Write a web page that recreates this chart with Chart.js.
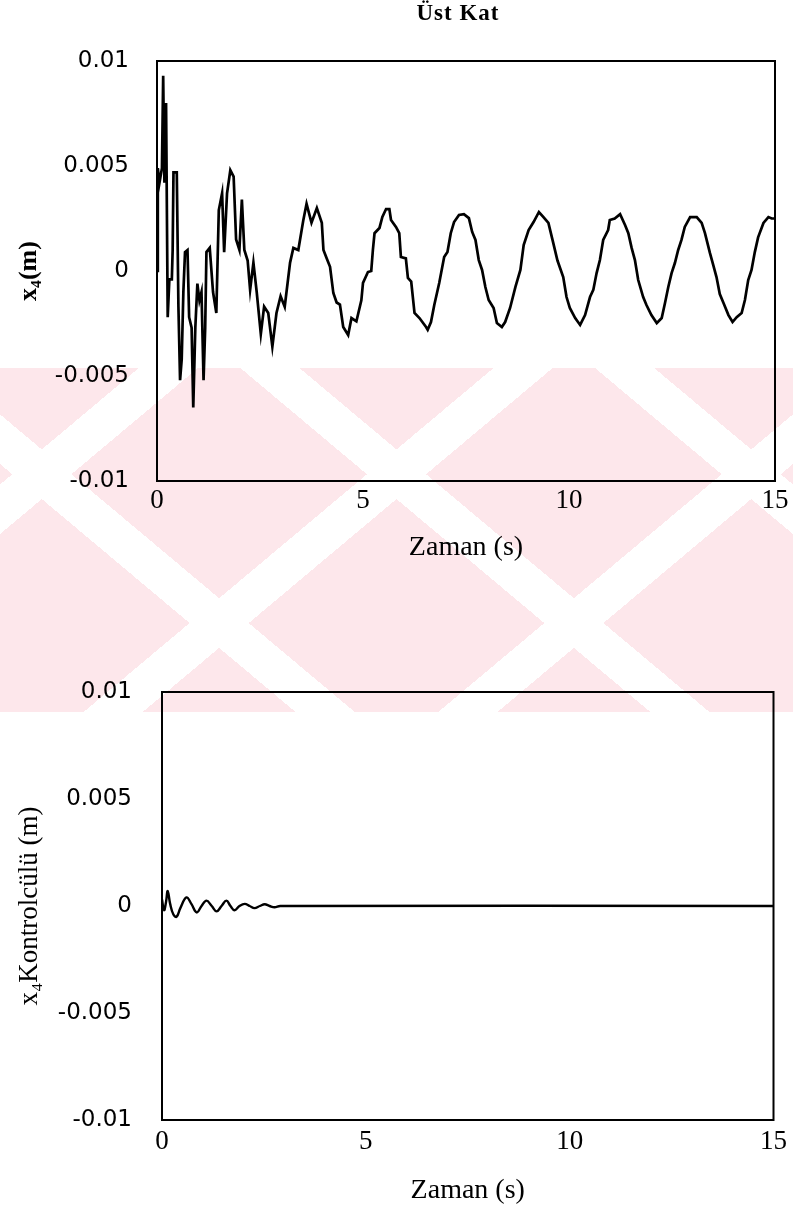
<!DOCTYPE html>
<html>
<head>
<meta charset="utf-8">
<script src="https://cdn.jsdelivr.net/npm/chart.js@4.4.1/dist/chart.umd.min.js"></script>
<style>
  html, body { margin: 0; padding: 0; background: #fff; }
  #page { position: relative; width: 793px; height: 1215px; overflow: hidden; background: #fff; }
  #mark {
    position: absolute; left: 0; top: 368px; width: 793px; height: 344px;
    background-color: #fde7eb;
    background-image:
      repeating-linear-gradient(40deg, transparent 0 190px, #fff 190px 228px),
      repeating-linear-gradient(-40deg, transparent 0 190px, #fff 190px 228px);
  }
  canvas { position: absolute; left: 0; }
</style>
</head>
<body>
<div id="page">
  <div id="mark"></div>
  <canvas id="topChart" width="793" height="600" style="top:0"></canvas>
  <canvas id="bottomChart" width="793" height="615" style="top:600px"></canvas>
</div>
<script>
// time axis, seconds
const xTicks = [0, 5, 10, 15];
const yTickLabels = ['-0.01', '-0.005', '0', '0.005', '0.01'];

// top storey displacement x4 (m)
const topTime = [0, 0.02, 0.06, 0.12, 0.15, 0.18, 0.22, 0.26, 0.30, 0.36, 0.38, 0.40, 0.48, 0.52, 0.56, 0.60,
  0.64, 0.68, 0.74, 0.78, 0.84, 0.88, 0.93, 0.98, 1.03, 1.08, 1.13, 1.17, 1.20, 1.28, 1.36, 1.44,
  1.50, 1.58, 1.63, 1.70, 1.78, 1.86, 1.92, 2.00, 2.06, 2.12, 2.20, 2.26, 2.34, 2.42, 2.52, 2.60,
  2.70, 2.80, 2.90, 3.00, 3.10, 3.23, 3.31, 3.43, 3.55, 3.63, 3.75, 3.88, 4.00, 4.04, 4.12, 4.20,
  4.28, 4.36, 4.44, 4.52, 4.64, 4.72, 4.84, 4.96, 5.00, 5.12, 5.20, 5.24, 5.28, 5.40, 5.47, 5.56,
  5.64, 5.68, 5.80, 5.88, 5.92, 6.04, 6.09, 6.17, 6.25, 6.37, 6.53, 6.57, 6.65, 6.73, 6.85, 6.97,
  7.05, 7.13, 7.21, 7.33, 7.45, 7.57, 7.65, 7.73, 7.81, 7.89, 7.97, 8.05, 8.17, 8.25, 8.37, 8.45,
  8.57, 8.70, 8.82, 8.90, 9.02, 9.14, 9.27, 9.38, 9.50, 9.60, 9.72, 9.86, 9.94, 10.02, 10.15, 10.27,
  10.39, 10.51, 10.59, 10.67, 10.75, 10.83, 10.95, 10.99, 11.11, 11.24, 11.36, 11.44, 11.52, 11.60,
  11.68, 11.80, 11.88, 12.00, 12.13, 12.25, 12.33, 12.41, 12.49, 12.57, 12.65, 12.73, 12.81, 12.94,
  13.10, 13.22, 13.30, 13.42, 13.50, 13.58, 13.66, 13.75, 13.87, 13.97, 14.07, 14.19, 14.27, 14.35,
  14.43, 14.51, 14.59, 14.72, 14.84, 14.92, 15.00];
const topDisp = [0, 0.0049, 0.0042, 0.0049, 0.0093, 0.0042, 0.0080, -0.0022, -0.0004, -0.0004, 0.0010, 0.0047, 0.0047, -0.0017, -0.0052, -0.0042,
  -0.0010, 0.0009, 0.0010, -0.0022, -0.0027, -0.0065, -0.0027, -0.0006, -0.0014, -0.0010, -0.0052, -0.0027, 0.0009, 0.0011, -0.0010, -0.0020,
  0.0029, 0.0037, 0.0009, 0.0037, 0.0048, 0.0045, 0.0015, 0.0010, 0.0034, 0.0010, 0.0005, -0.0009, 0.0004, -0.0010, -0.0030, -0.0017,
  -0.0020, -0.0036, -0.0020, -0.0012, -0.0017, 0.0004, 0.0011, 0.0010, 0.0024, 0.0032, 0.0023, 0.0030, 0.0023, 0.0010, 0.0006, 0.0002,
  -0.00105, -0.0015, -0.0016, -0.00267, -0.00305, -0.00224, -0.0024, -0.0014, -0.00057, -0.00005, 0.0000, 0.0010, 0.0018, 0.00205, 0.00257, 0.00295,
  0.00295, 0.00243, 0.0021, 0.0018, 0.00067, 0.0006, -0.00033, -0.0005, -0.0020, -0.00224, -0.00267, -0.0028, -0.00243, -0.00162, -0.00057, 0.00067,
  0.0009, 0.0018, 0.00233, 0.00267, 0.00271, 0.00252, 0.00186, 0.00148, 0.00052, 0.00005, -0.00076, -0.00138, -0.00176, -0.00248, -0.00267, -0.00243,
  -0.00176, -0.00076, 0.00005, 0.00124, 0.00195, 0.00233, 0.00281, 0.00257, 0.00229, 0.00148, 0.0005, -0.00029, -0.00124, -0.00176, -0.00224, -0.00257,
  -0.0021, -0.00124, -0.0009, -0.0001, 0.00052, 0.00148, 0.00195, 0.00243, 0.0025, 0.00271, 0.00219, 0.0018, 0.0011, 0.00052,
  -0.00043, -0.00124, -0.00162, -0.0021, -0.00248, -0.00224, -0.00152, -0.00076, -0.0001, 0.00038, 0.0010, 0.00148, 0.0021, 0.00257,
  0.00257, 0.00229, 0.0018, 0.00086, 0.00029, -0.00029, -0.0011, -0.00152, -0.0021, -0.00243, -0.0022, -0.0020, -0.00138, -0.00043,
  0.00005, 0.0009, 0.0016, 0.00229, 0.00257, 0.0025, 0.0025];

// x4 controller displacement (m)
const ctrlTime = [0, 0.05, 0.10, 0.14, 0.20, 0.28, 0.36, 0.45, 0.60, 0.72, 0.85, 0.97, 1.09, 1.22, 1.34,
  1.46, 1.58, 1.68, 1.78, 1.90, 2.03, 2.15, 2.27, 2.40, 2.52, 2.64, 2.76, 2.90, 15];
const ctrlDisp = [0.0003, -0.0002, 0.0002, 0.0007, 0.0001, -0.0004, -0.0005, -0.0001, 0.0004, 0.0001, -0.0003, 0, 0.00025, 0, -0.00025,
  0, 0.00025, 0, -0.0002, 0, 0.0001, 0, -0.0001, 0, 0.00008, 0, -0.00006, 0, 0];

const serif = '"Liberation Serif", "Times New Roman", serif';
const sans = '"DejaVu Sans", Verdana, sans-serif';

// box around the plot area
const frame = {
  id: 'frame',
  afterDraw(chart) {
    const a = chart.chartArea, ctx = chart.ctx;
    ctx.save();
    ctx.strokeStyle = '#000';
    ctx.lineWidth = 2;
    ctx.strokeRect(a.left, a.top, a.right - a.left, a.bottom - a.top);
    ctx.restore();
  }
};

// heading over the top plot
const heading = {
  id: 'heading',
  afterDraw(chart, args, opts) {
    if (!opts.text) return;
    const ctx = chart.ctx;
    ctx.save();
    ctx.font = 'bold 23px ' + serif;
    ctx.letterSpacing = '1px';
    ctx.fillStyle = '#000';
    ctx.textAlign = 'center';
    ctx.textBaseline = 'middle';
    ctx.fillText(opts.text, opts.x, opts.y);
    ctx.restore();
  }
};

function makeChart(id, time, disp, o) {
  return new Chart(document.getElementById(id), {
    type: 'line',
    data: {
      datasets: [{
        data: time.map((t, i) => ({ x: t, y: disp[i] })),
        borderColor: '#000',
        borderWidth: o.lineWidth,
        tension: o.tension,
        pointRadius: 0,
        fill: false
      }]
    },
    options: {
      responsive: false,
      animation: false,
      devicePixelRatio: 1,
      layout: { padding: { top: o.top, right: o.right, left: 0, bottom: 0 } },
      plugins: {
        legend: { display: false },
        tooltip: { enabled: false },
        heading: o.heading || {}
      },
      scales: {
        x: {
          type: 'linear', min: 0, max: 15,
          afterBuildTicks: s => { s.ticks = xTicks.map(v => ({ value: v })); },
          afterFit: s => { s.height = o.xHeight; },
          grid: { display: false, drawTicks: false },
          border: { display: false },
          ticks: { color: '#000', padding: o.xPad, maxRotation: 0, font: { family: serif, size: 27 }, callback: v => String(v) },
          title: { display: true, text: 'Zaman (s)', color: '#000', font: { family: serif, size: 28 }, padding: { top: 0, bottom: o.xTitlePad } }
        },
        y: {
          min: -0.01, max: 0.01,
          ticks: { stepSize: 0.005, color: '#000', padding: o.yPad, font: { family: sans, size: 23 }, callback: (v, i) => yTickLabels[i] },
          afterFit: s => { s.width = o.left; },
          grid: { display: false, drawTicks: false },
          border: { display: false },
          title: { display: true, text: o.yTitle, color: '#000', font: { family: serif, size: o.ySize, weight: o.yBold ? 'bold' : 'normal' }, padding: { top: 14, bottom: 0 } }
        }
      }
    },
    plugins: [frame, heading]
  });
}

makeChart('topChart', topTime, topDisp, {
  top: 61, right: 18, left: 157, xHeight: 119, xPad: 4, xTitlePad: 36, yPad: 28,
  yTitle: 'x₄(m)', yBold: true, ySize: 26, tension: 0, lineWidth: 2.7,
  heading: { text: 'Üst Kat', x: 458, y: 14 }
});

makeChart('bottomChart', ctrlTime, ctrlDisp, {
  top: 92, right: 17, left: 162, xHeight: 95, xPad: 6, xTitlePad: 8, yPad: 30,
  yTitle: 'x₄Kontrolcülü (m)', yBold: false, ySize: 27, tension: 0.4, lineWidth: 2.4
});
</script>
</body>
</html>
